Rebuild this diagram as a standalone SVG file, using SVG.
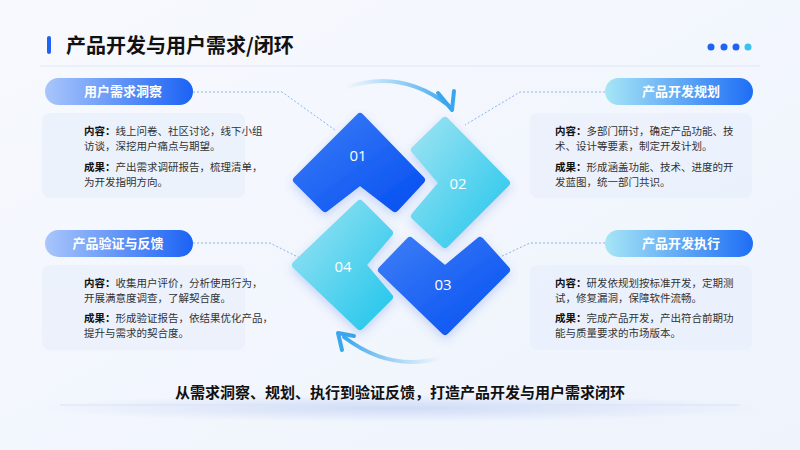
<svg xmlns="http://www.w3.org/2000/svg" width="800" height="450" viewBox="0 0 800 450">
<defs>
<linearGradient id="bg" x1="0" y1="0" x2="1" y2="1"><stop offset="0" stop-color="#f7f9fe"/><stop offset="1" stop-color="#eef3fc"/></linearGradient>
<linearGradient id="blue" x1="0" y1="0" x2="1" y2="1"><stop offset="0" stop-color="#3c7cf6"/><stop offset="1" stop-color="#0550f2"/></linearGradient>
<linearGradient id="cyan" x1="0" y1="0" x2="1" y2="1"><stop offset="0" stop-color="#9ce3f2"/><stop offset="1" stop-color="#22c6ec"/></linearGradient>
<linearGradient id="pillL" x1="0" y1="0" x2="1" y2="0"><stop offset="0" stop-color="#a9c6fb"/><stop offset="1" stop-color="#1b63f4"/></linearGradient>
<linearGradient id="pillR" x1="0" y1="0" x2="1" y2="0"><stop offset="0" stop-color="#a6e6f6"/><stop offset="1" stop-color="#1e6ef5"/></linearGradient>
<linearGradient id="arcT" x1="0" y1="0" x2="1" y2="0"><stop offset="0" stop-color="#5bb8f0" stop-opacity="0"/><stop offset="1" stop-color="#3aa6ee"/></linearGradient>
<linearGradient id="arcB" x1="1" y1="0" x2="0" y2="0"><stop offset="0" stop-color="#5bb8f0" stop-opacity="0"/><stop offset="1" stop-color="#3aa6ee"/></linearGradient>
<radialGradient id="glow" cx="0.5" cy="0.5" r="0.5"><stop offset="0" stop-color="#cfdcf7"/><stop offset="1" stop-color="#cfdcf7" stop-opacity="0"/></radialGradient>
<filter id="sh" x="-30%" y="-30%" width="160%" height="160%"><feDropShadow dx="0" dy="4" stdDeviation="5" flood-color="#3b6fe0" flood-opacity="0.25"/></filter>
</defs>
<style>
.t{font-family:"Noto Sans CJK SC","Noto Sans",sans-serif}
.title{font-size:20px;font-weight:700;fill:#111}
.pill{font-size:13px;font-weight:700;fill:#fff}
.body{font-size:10.5px;fill:#333}
.b{font-weight:700;fill:#111}
.card{fill:#eaf0fb;opacity:0.8}
.num{font-size:15px;fill:#fff;font-family:"Open Sans","Noto Sans",sans-serif}
.dash{fill:none;stroke:#8bb4ea;stroke-width:1;stroke-dasharray:2 2}
.shape{stroke-linejoin:round;stroke-width:8;filter:url(#sh)}
</style>
<rect width="800" height="450" fill="url(#bg)"/>
<rect x="47" y="36" width="4" height="18" rx="2" fill="#1e63f4"/>
<text class="t title" x="66" y="53">产品开发与用户需求/闭环</text>
<g fill="#1e63f4"><circle cx="711" cy="47" r="3.5"/><circle cx="724" cy="47" r="3.5"/><circle cx="736" cy="47" r="3.5"/></g><circle cx="748" cy="47" r="3.5" fill="#37c3ee"/>
<line x1="40" y1="66" x2="760" y2="66" stroke="#dfe7f6"/>
<g id="connectors">
<path class="dash" d="M193,92 H282 L335,130"/>
<path class="dash" d="M605,92 H520 L465,125"/>
<path class="dash" d="M193,243 H270 L300,258"/>
<path class="dash" d="M605,243 H530 L498,258"/>
<path d="M345,88 Q400,68 448,105" fill="none" stroke="url(#arcT)" stroke-width="4" stroke-linecap="round"/>
<path d="M438,93 L452,110 L454,91" fill="none" stroke="#3aa6ee" stroke-width="4" stroke-linecap="round" stroke-linejoin="round"/>
<path d="M440,358 Q390,372 344,337" fill="none" stroke="url(#arcB)" stroke-width="4" stroke-linecap="round"/>
<path d="M354,336 L338,333 L342,350" fill="none" stroke="#3aa6ee" stroke-width="4" stroke-linecap="round" stroke-linejoin="round"/>
</g>
<g id="n01"><polygon class="shape" fill="url(#blue)" stroke="url(#blue)" points="360,117 421,180 395,208 360,181 325,208 297,180"/><text class="num" x="358" y="161" text-anchor="middle">01</text></g>
<g id="n02"><polygon class="shape" fill="url(#cyan)" stroke="url(#cyan)" points="445,121 506,183 445,244 415,216 443,183 415,150"/><text class="num" x="458" y="189" text-anchor="middle">02</text></g>
<g id="n03"><polygon class="shape" fill="url(#blue)" stroke="url(#blue)" points="382,270 410,241 445,270 480,241 506,270 445,331"/><text class="num" x="443" y="290" text-anchor="middle">03</text></g>
<g id="n04"><polygon class="shape" fill="url(#cyan)" stroke="url(#cyan)" points="360,204 389,233 362,265 389,297 360,326 296,265"/><text class="num" x="343" y="272" text-anchor="middle">04</text></g>
<g id="p1">
<rect x="45" y="78" width="148" height="27" rx="13.5" fill="url(#pillL)"/><text class="t pill" x="123" y="96" text-anchor="middle">用户需求洞察</text>
<rect class="card" x="42" y="113" width="203" height="85" rx="8"/>
<text class="t body" x="84" y="135"><tspan class="b">内容：</tspan>线上问卷、社区讨论，线下小组</text>
<text class="t body" x="84" y="150">访谈，深挖用户痛点与期望。</text>
<text class="t body" x="84" y="171"><tspan class="b">成果：</tspan>产出需求调研报告，梳理清单，</text>
<text class="t body" x="84" y="186">为开发指明方向。</text>
</g>
<g id="p2">
<rect x="605" y="78" width="148" height="27" rx="13.5" fill="url(#pillR)"/><text class="t pill" x="681" y="96" text-anchor="middle">产品开发规划</text>
<rect class="card" x="530" y="113" width="222" height="85" rx="8"/>
<text class="t body" x="555" y="135"><tspan class="b">内容：</tspan>多部门研讨，确定产品功能、技</text>
<text class="t body" x="555" y="150">术、设计等要素，制定开发计划。</text>
<text class="t body" x="555" y="171"><tspan class="b">成果：</tspan>形成涵盖功能、技术、进度的开</text>
<text class="t body" x="555" y="186">发蓝图，统一部门共识。</text>
</g>
<g id="p4">
<rect x="45" y="230" width="148" height="27" rx="13.5" fill="url(#pillL)"/><text class="t pill" x="118" y="248" text-anchor="middle">产品验证与反馈</text>
<rect class="card" x="42" y="265" width="203" height="85" rx="8"/>
<text class="t body" x="84" y="287"><tspan class="b">内容：</tspan>收集用户评价，分析使用行为，</text>
<text class="t body" x="84" y="302">开展满意度调查，了解契合度。</text>
<text class="t body" x="84" y="322"><tspan class="b">成果：</tspan>形成验证报告，依结果优化产品，</text>
<text class="t body" x="84" y="337">提升与需求的契合度。</text>
</g>
<g id="p3">
<rect x="605" y="230" width="148" height="27" rx="13.5" fill="url(#pillR)"/><text class="t pill" x="681" y="248" text-anchor="middle">产品开发执行</text>
<rect class="card" x="530" y="265" width="222" height="85" rx="8"/>
<text class="t body" x="555" y="287"><tspan class="b">内容：</tspan>研发依规划按标准开发，定期测</text>
<text class="t body" x="555" y="302">试，修复漏洞，保障软件流畅。</text>
<text class="t body" x="555" y="322"><tspan class="b">成果：</tspan>完成产品开发，产出符合前期功</text>
<text class="t body" x="555" y="337">能与质量要求的市场版本。</text>
</g>
<ellipse cx="400" cy="408" rx="360" ry="14" fill="url(#glow)"/>
<line x1="60" y1="405" x2="740" y2="405" stroke="#d9e3f6"/>
<text class="t" x="400" y="398" text-anchor="middle" font-size="15" font-weight="700" fill="#111">从需求洞察、规划、执行到验证反馈，打造产品开发与用户需求闭环</text>
</svg>
